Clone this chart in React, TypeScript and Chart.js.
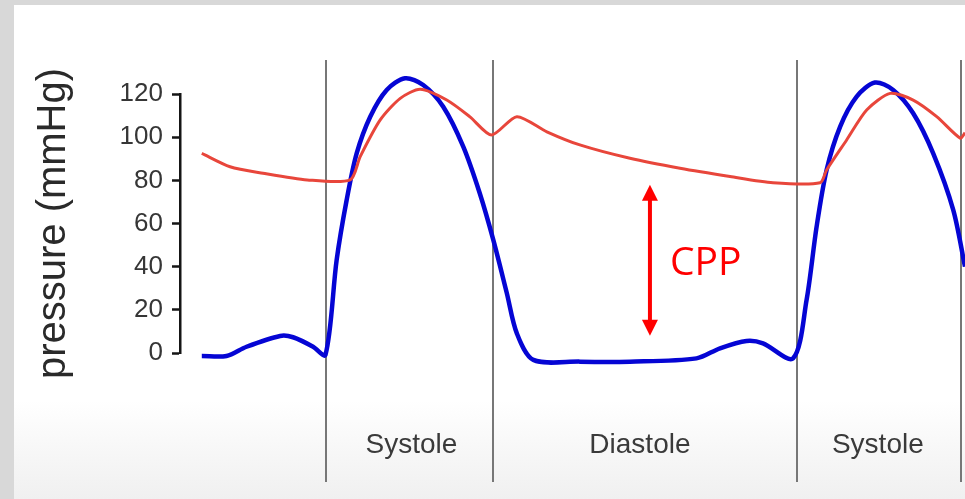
import React, { useEffect, useRef } from "react";
import { Chart, registerables } from "chart.js";

Chart.register(...registerables);

// ---- data (time in ms, pressure in mmHg) ----
const yTicks = [0, 20, 40, 60, 80, 100, 120];

const phaseBoundaries = [248, 532, 1048, 1326];
const phaseLabels = ["Systole", "Diastole", "Systole"];
const phaseLabelCenters = [393, 781, 1185];

const aorticTimes = [37, 85, 141, 216, 289, 306, 340, 374, 408, 453, 492, 529, 572, 623, 679, 764, 849, 934, 1007, 1087, 1098, 1132, 1166, 1206, 1245, 1285, 1325, 1333];
const aorticValues = [92.5, 86.3, 83.3, 80.2, 80.2, 91, 108, 118, 122.2, 117.2, 109.5, 101, 109.5, 102.5, 96.4, 90.2, 85.6, 81.8, 78.9, 78.9, 84.8, 98.7, 112.6, 120.3, 117.2, 109.5, 99.5, 102];

const lvTimes = [37, 79, 113, 170, 192, 226, 247, 266, 283, 300, 323, 351, 382, 413, 447, 481, 509, 532, 555, 572, 600, 679, 764, 877, 917, 962, 990, 1041, 1064, 1081, 1098, 1121, 1149, 1180, 1211, 1245, 1279, 1313, 1333];
const lvValues = [-1.4, -1.4, 2.9, 7.9, 7.3, 2.9, -0.9, 43.1, 70.9, 92.5, 109.5, 121.9, 127.3, 124.2, 114.1, 95.6, 74, 52.4, 27.7, 9.1, -3.2, -4, -4, -2.5, 2.2, 5.6, 4.5, -2.5, 24.6, 58.5, 84.8, 104.9, 118.8, 125.3, 121.9, 111.1, 92.5, 66.3, 40];

const cppTime = 798;
const cppTop = 78;
const cppBottom = 8;
const cppLabel = "CPP";

const yTitle = "pressure (mmHg)";

const SANS = '"Liberation Sans", Arial, Helvetica, sans-serif';

const overlayPlugin = {
  id: "overlay",
  beforeDatasetsDraw(chart: any) {
    const { ctx, chartArea, scales } = chart;
    const x = scales.x;
    ctx.save();
    ctx.strokeStyle = "#777777";
    ctx.lineWidth = 2;
    for (const t of phaseBoundaries) {
      const px = Math.round(x.getPixelForValue(t));
      ctx.beginPath();
      ctx.moveTo(px, chartArea.top - 34);
      ctx.lineTo(px, chartArea.bottom + 129);
      ctx.stroke();
    }
    ctx.font = "28px " + SANS;
    ctx.fillStyle = "#3a3a3a";
    ctx.textAlign = "center";
    ctx.textBaseline = "alphabetic";
    phaseLabels.forEach((label, i) => {
      ctx.fillText(label, x.getPixelForValue(phaseLabelCenters[i]), chartArea.bottom + 100);
    });
    ctx.restore();
  },
  afterDatasetsDraw(chart: any) {
    const { ctx, scales } = chart;
    const px = scales.x.getPixelForValue(cppTime);
    const top = scales.y.getPixelForValue(cppTop);
    const bot = scales.y.getPixelForValue(cppBottom);
    ctx.save();
    ctx.fillStyle = "#ff0000";
    ctx.strokeStyle = "#ff0000";
    ctx.lineWidth = 4;
    ctx.beginPath();
    ctx.moveTo(px, top + 12);
    ctx.lineTo(px, bot - 12);
    ctx.stroke();
    const hl = 16;
    const hw = 8;
    ctx.beginPath();
    ctx.moveTo(px, top);
    ctx.lineTo(px - hw, top + hl);
    ctx.lineTo(px + hw, top + hl);
    ctx.closePath();
    ctx.fill();
    ctx.beginPath();
    ctx.moveTo(px, bot);
    ctx.lineTo(px - hw, bot - hl);
    ctx.lineTo(px + hw, bot - hl);
    ctx.closePath();
    ctx.fill();
    ctx.font = '39px "Open Sans", "Noto Sans", sans-serif';
    ctx.textAlign = "left";
    ctx.textBaseline = "alphabetic";
    ctx.fillText(cppLabel, px + 20, (top + bot) / 2 + 15);
    ctx.restore();
  },
};

export default function App() {
  const canvasRef = useRef<HTMLCanvasElement | null>(null);

  useEffect(() => {
    document.body.style.margin = "0";
    const canvas = canvasRef.current;
    if (!canvas) return;
    const chart = new Chart(canvas, {
      type: "line",
      data: {
        datasets: [
          {
            label: "Aortic pressure",
            data: aorticTimes.map((t, i) => ({ x: t, y: aorticValues[i] })),
            borderColor: "#e8463b",
            borderWidth: 3,
            pointRadius: 0,
            tension: 0.25,
            clip: false as any,
            fill: false,
          },
          {
            label: "LV pressure",
            data: lvTimes.map((t, i) => ({ x: t, y: lvValues[i] })),
            borderColor: "#0505d4",
            borderWidth: 4.5,
            pointRadius: 0,
            tension: 0.3,
            clip: false as any,
            fill: false,
          },
        ],
      },
      options: {
        animation: false,
        responsive: false,
        maintainAspectRatio: false,
        devicePixelRatio: 1,
        layout: { padding: { top: 94, bottom: 146, left: 0, right: 0 } },
        plugins: {
          legend: { display: false },
          tooltip: { enabled: false },
        },
        scales: {
          x: { type: "linear", min: 0, max: 1333, display: false },
          y: {
            type: "linear",
            min: 0,
            max: 120,
            afterFit: (s: any) => {
              s.width = 180;
            },
            afterBuildTicks: (s: any) => {
              s.ticks = yTicks.map((v) => ({ value: v }));
            },
            border: { display: true, color: "#151515", width: 2.5 },
            grid: {
              drawOnChartArea: false,
              drawTicks: true,
              tickLength: 8,
              tickWidth: 2.5,
              tickColor: "#151515",
            },
            ticks: {
              font: { family: SANS, size: 26 },
              color: "#363636",
              padding: 9,
            },
            title: {
              display: true,
              text: yTitle,
              font: { family: SANS, size: 40 },
              color: "#2a2a2a",
              padding: { top: 30, bottom: 0 },
            },
          },
        },
      },
      plugins: [overlayPlugin],
    } as any);
    return () => chart.destroy();
  }, []);

  return (
    <div style={{ position: "relative", width: 965, height: 499, background: "#d8d8d8", overflow: "hidden" }}>
      <div
        style={{
          position: "absolute",
          left: 14,
          top: 5,
          right: 0,
          bottom: 0,
          background: "linear-gradient(to bottom, #ffffff 0%, #ffffff 80%, #f0f0f0 100%)",
        }}
      />
      <canvas ref={canvasRef} width={965} height={499} style={{ position: "absolute", left: 0, top: 0, width: 965, height: 499 }} />
    </div>
  );
}
